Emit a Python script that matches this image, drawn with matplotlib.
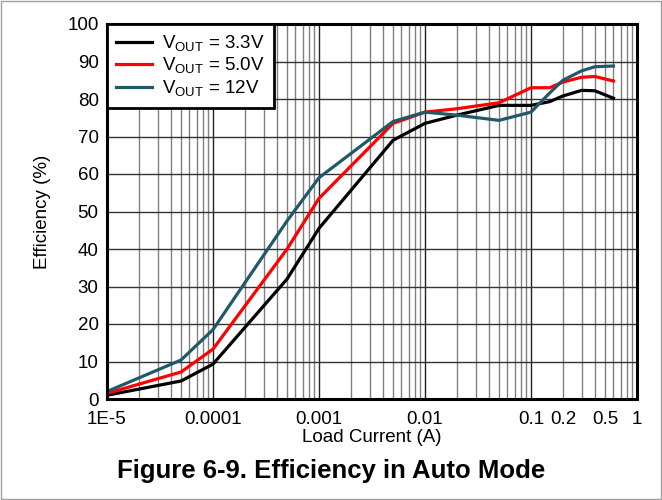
import numpy as np
from matplotlib import pyplot as plt
from matplotlib.patches import Rectangle

plt.rcParams['font.family'] = ['Liberation Sans', 'DejaVu Sans']

# load current (A) and efficiency (%)
current = [1e-5, 5e-5, 1e-4, 5e-4, 1e-3, 5e-3, 1e-2, 2e-2, 5e-2, 0.1, 0.15, 0.2, 0.3, 0.4, 0.6]
eff_3v3 = [1.0, 4.8, 9.3, 32, 45.5, 69, 73.5, 75.7, 78.3, 78.3, 79.3, 80.8, 82.3, 82.2, 80.2]
eff_5v0 = [1.5, 7.2, 13.3, 40, 53.5, 73.5, 76.5, 77.4, 79, 83, 83, 84.5, 85.8, 86, 84.8]
eff_12v = [2.0, 10.4, 18.5, 47.5, 59, 74, 76.5, 75.7, 74.3, 76.5, 81.6, 85, 87.5, 88.6, 88.8]

series_labels = ['V$_{\\mathregular{OUT}}$ = 3.3V',
                 'V$_{\\mathregular{OUT}}$ = 5.0V',
                 'V$_{\\mathregular{OUT}}$ = 12V']
series_colors = ['black', '#ff0000', '#215968']

xticks = [1e-5, 1e-4, 1e-3, 1e-2, 0.1, 0.2, 0.5, 1]
xtick_labels = ['1E-5', '0.0001', '0.001', '0.01', '0.1', '0.2', '0.5', '1']
yticks = np.arange(0, 101, 10)

fig = plt.figure(figsize=(6.62, 5.0), dpi=100)
ax = fig.add_axes([0.1616, 0.202, 0.8006, 0.750])

for y, lab, col in zip([eff_3v3, eff_5v0, eff_12v], series_labels, series_colors):
    ax.plot(current, y, color=col, lw=2.3, label=lab, zorder=3)

ax.set_xscale('log')
ax.set_xlim(1e-5, 1)
ax.set_ylim(0, 100)
ax.set_xticks(xticks)
ax.set_xticklabels(xtick_labels)
ax.set_xticks([m * 10.0 ** e for e in range(-5, 0) for m in range(2, 10)], minor=True)
ax.set_xticklabels([], minor=True)
ax.set_yticks(yticks)

# grid
for v in [1e-5, 1e-4, 1e-3, 1e-2, 0.1, 1]:
    ax.axvline(v, color='#222222', lw=1, zorder=1)
for e in range(-5, 0):
    for m in range(2, 10):
        ax.axvline(m * 10.0 ** e, color='#808080', lw=1, zorder=1)
for h in yticks:
    ax.axhline(h, color='#333333', lw=1, zorder=1)

ax.tick_params(which='both', length=0, labelsize=13.5)
ax.tick_params(axis='x', pad=9)
ax.tick_params(axis='y', pad=6)
for s in ax.spines.values():
    s.set_linewidth(2.2)
    s.set_zorder(5)

ax.set_xlabel('Load Current (A)', fontsize=13.5, labelpad=0)
ax.set_ylabel('Efficiency (%)', fontsize=13.5, labelpad=12)

leg = ax.legend(loc='upper left', fontsize=13.5, frameon=True, fancybox=False,
                borderaxespad=0.0, handlelength=1.9, labelspacing=0.12,
                borderpad=0.5, handletextpad=0.55)
leg.get_frame().set_edgecolor('black')
leg.get_frame().set_linewidth(2)
leg.get_frame().set_alpha(1)
leg.set_zorder(6)

fig.text(0.5, 0.058, 'Figure 6-9. Efficiency in Auto Mode', ha='center', va='center',
         fontsize=18.5, fontweight='bold')

fig.patches.append(Rectangle((0.002, 0.002), 0.996, 0.996, transform=fig.transFigure,
                             fill=False, edgecolor='#a0a0a0', lw=1))

fig.savefig('out.png', dpi=100)
